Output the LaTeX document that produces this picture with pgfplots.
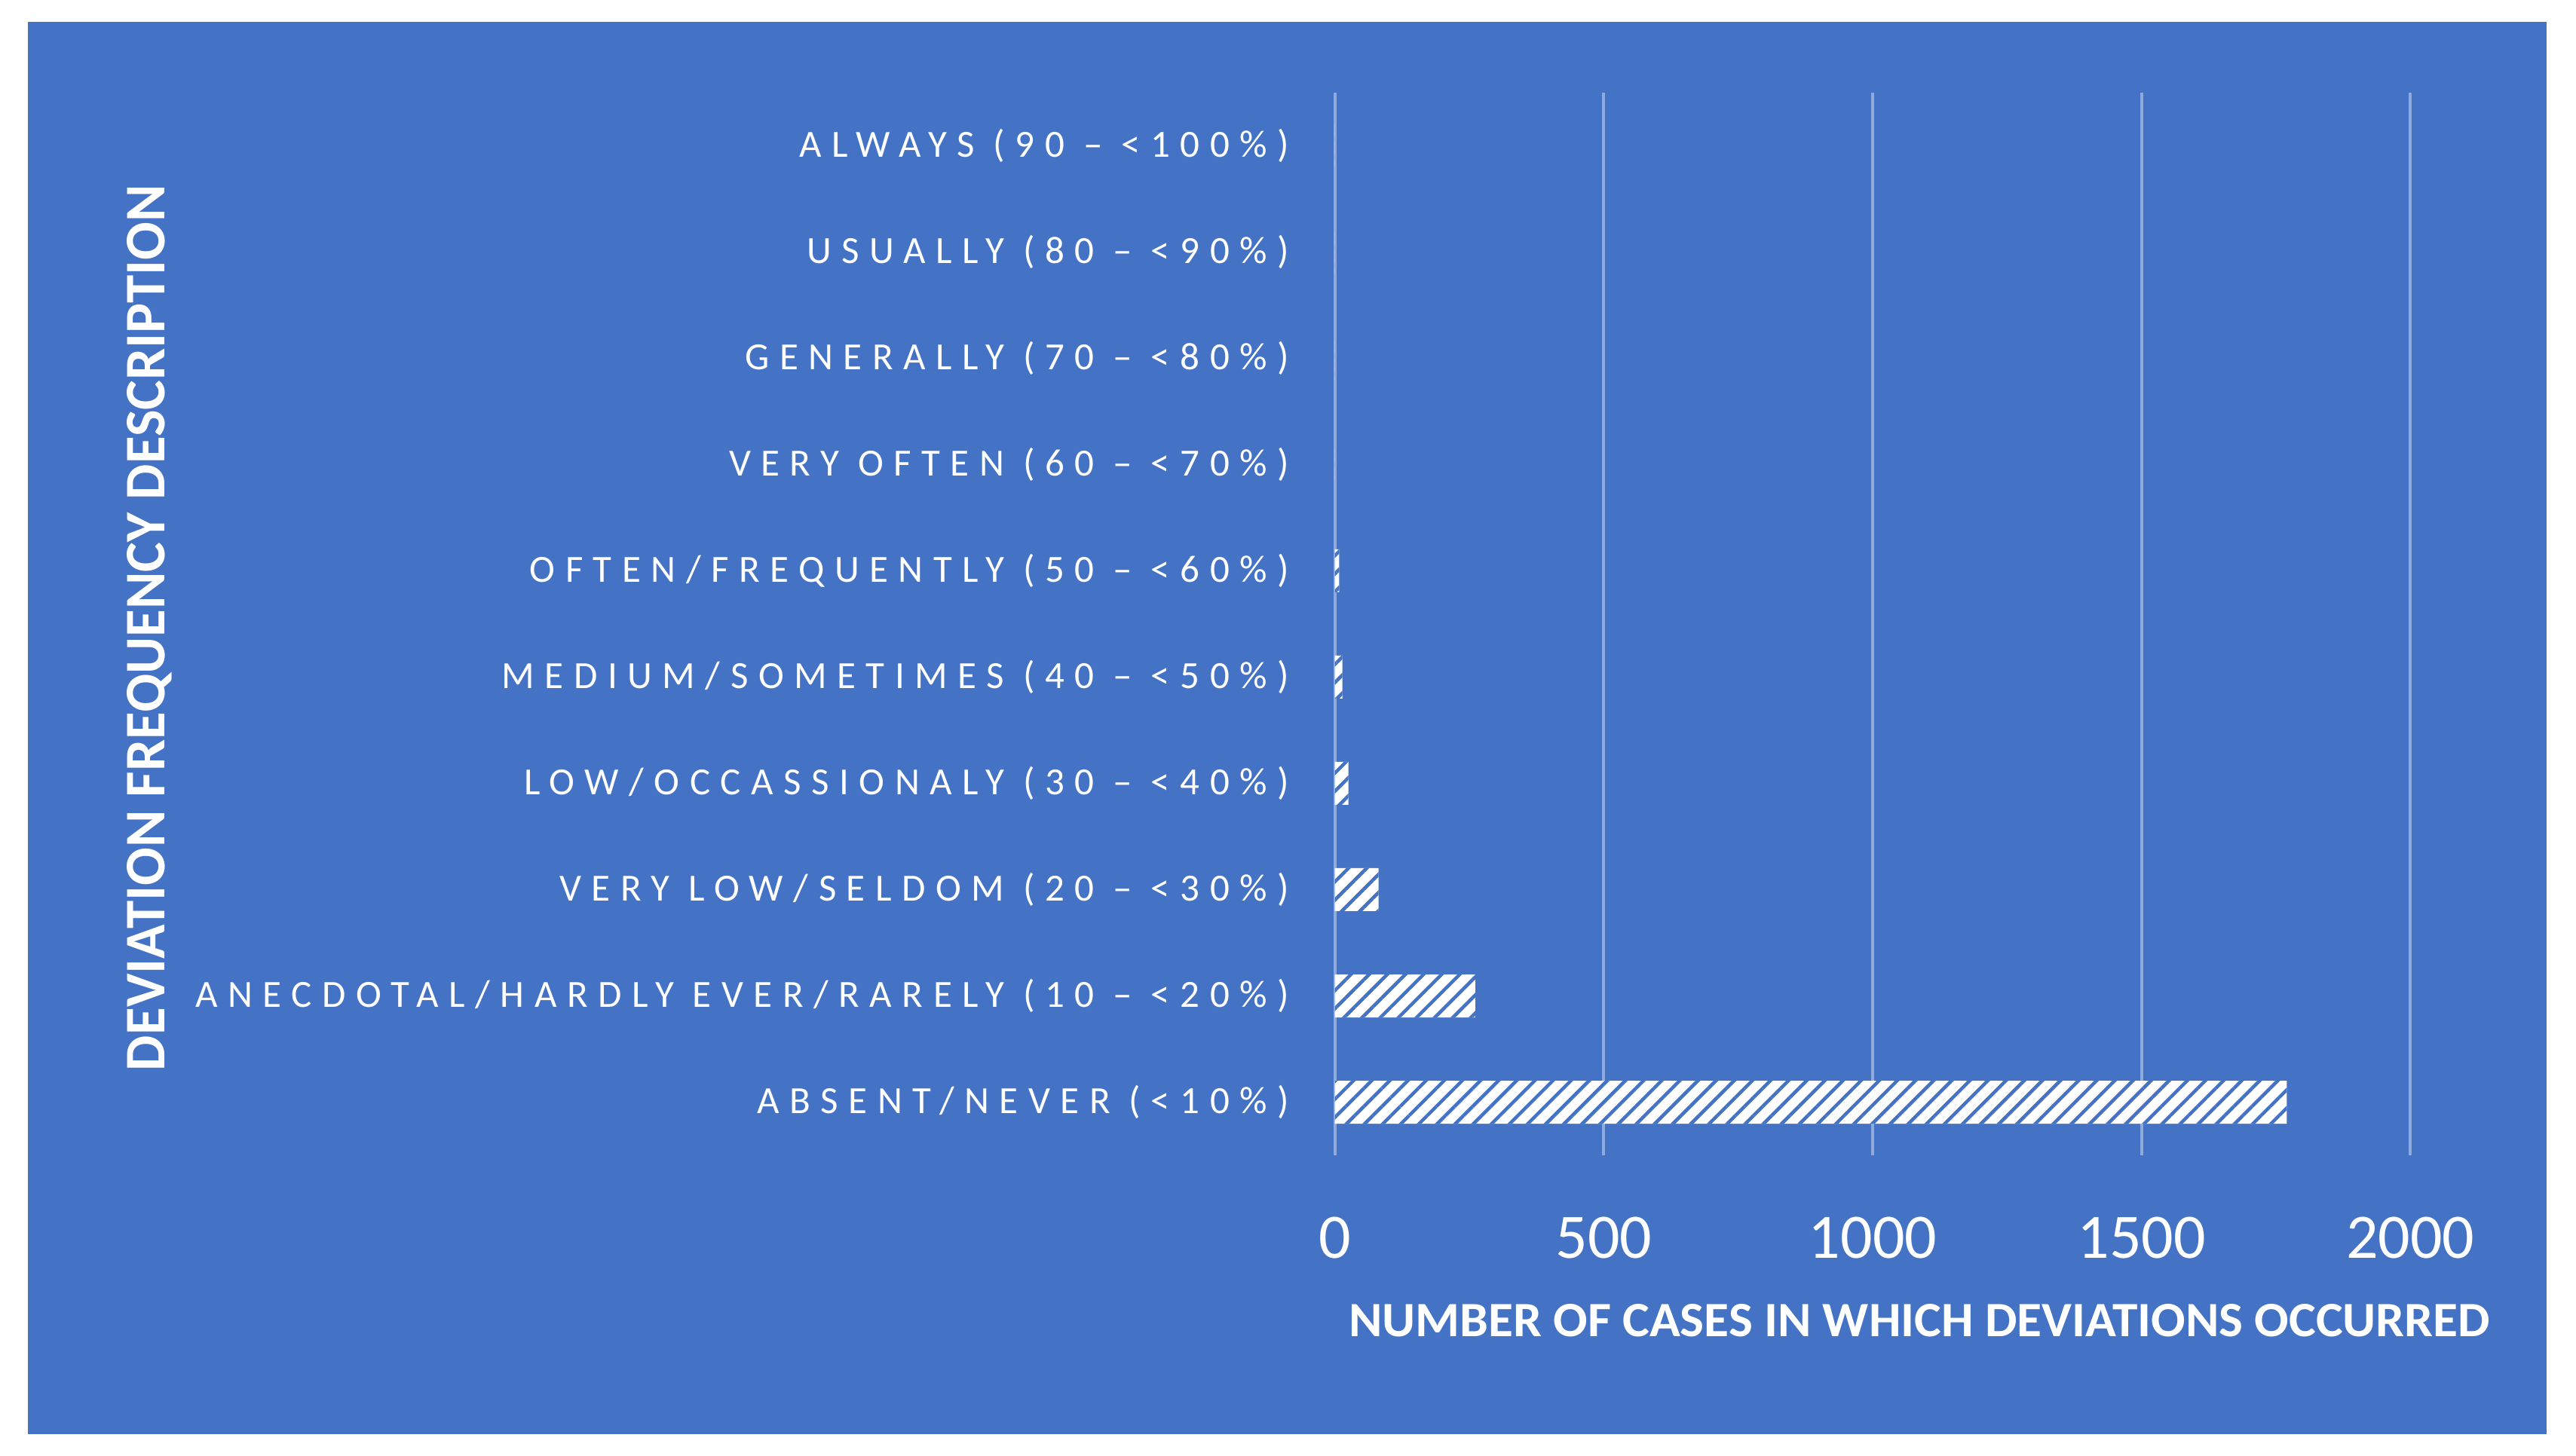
\documentclass[border=0pt]{standalone}
\usepackage{fontspec}
\setmainfont{Carlito}
\usepackage{graphicx}
\usepackage{pgfplots}
\pgfplotsset{compat=1.18}
\usetikzlibrary{patterns.meta}
\definecolor{bg}{HTML}{4472C4}
\definecolor{gridc}{HTML}{8FAADC}
\newfontfamily\catfont[LetterSpace=26.5]{Carlito}
\newfontfamily\tickfont{Carlito}
\begin{document}
\begin{tikzpicture}[x=1pt,y=1pt]
\path[use as bounding box] (0,0) rectangle (341.7,193.1);
\fill[white] (0,0) rectangle (341.7,193.1);
\fill[bg] (3.7,2.8) rectangle (337.8,190.2);
\begin{axis}[at={(177.07pt,39.8pt)}, anchor=south west, scale only axis,
  width=142.66pt, height=141pt,
  xmin=0, xmax=2000, ymin=-0.5, ymax=9.5,
  xbar, bar width=5.7pt,
  axis line style={draw=none}, tick style={draw=none},
  xmajorgrids, grid style={gridc, line width=0.4pt},
  xtick={0,500,1000,1500,2000}, xticklabels={0,500,1000,1500,2000},
  xticklabel style={font=\tickfont\fontsize{8.4}{9}\selectfont, text=white, anchor=north, inner sep=0pt, yshift=-8pt},
  ytick={0,1,2,3,4,5,6,7,8,9},
  yticklabels={{ABSENT/NEVER (<10\%)},{ANECDOTAL/HARDLY EVER/RARELY (10 – <20\%)},{VERY LOW/SELDOM (20 – <30\%)},{LOW/OCCASSIONALY (30 – <40\%)},{MEDIUM/SOMETIMES (40 – <50\%)},{OFTEN/FREQUENTLY (50 – <60\%)},{VERY OFTEN (60 – <70\%)},{GENERALLY (70 – <80\%)},{USUALLY (80 – <90\%)},{ALWAYS (90 – <100\%)}},
  yticklabel style={font=\catfont\fontsize{5.1}{6}\selectfont, text=white, anchor=east, inner sep=0pt, xshift=-1.6pt},
]
\addplot[draw=none, fill=white, postaction={pattern={Lines[angle=45,distance=1.7pt,line width=0.45pt]}, pattern color=bg}]
  coordinates {(1770,0) (261,1) (81,2) (25,3) (14,4) (8,5) (0,6) (0,7) (0,8) (0,9)};
\end{axis}
\node[anchor=base west, inner sep=0pt, text=white] at (178.7,15.8) {\resizebox{151.4pt}{4.3pt}{\bfseries NUMBER OF CASES IN WHICH DEVIATIONS OCCURRED}};
\node[anchor=base, rotate=90, inner sep=0pt, text=white] at (21.8,109.8) {\resizebox{117.6pt}{5.0pt}{\bfseries DEVIATION FREQUENCY DESCRIPTION}};
\end{tikzpicture}
\end{document}
